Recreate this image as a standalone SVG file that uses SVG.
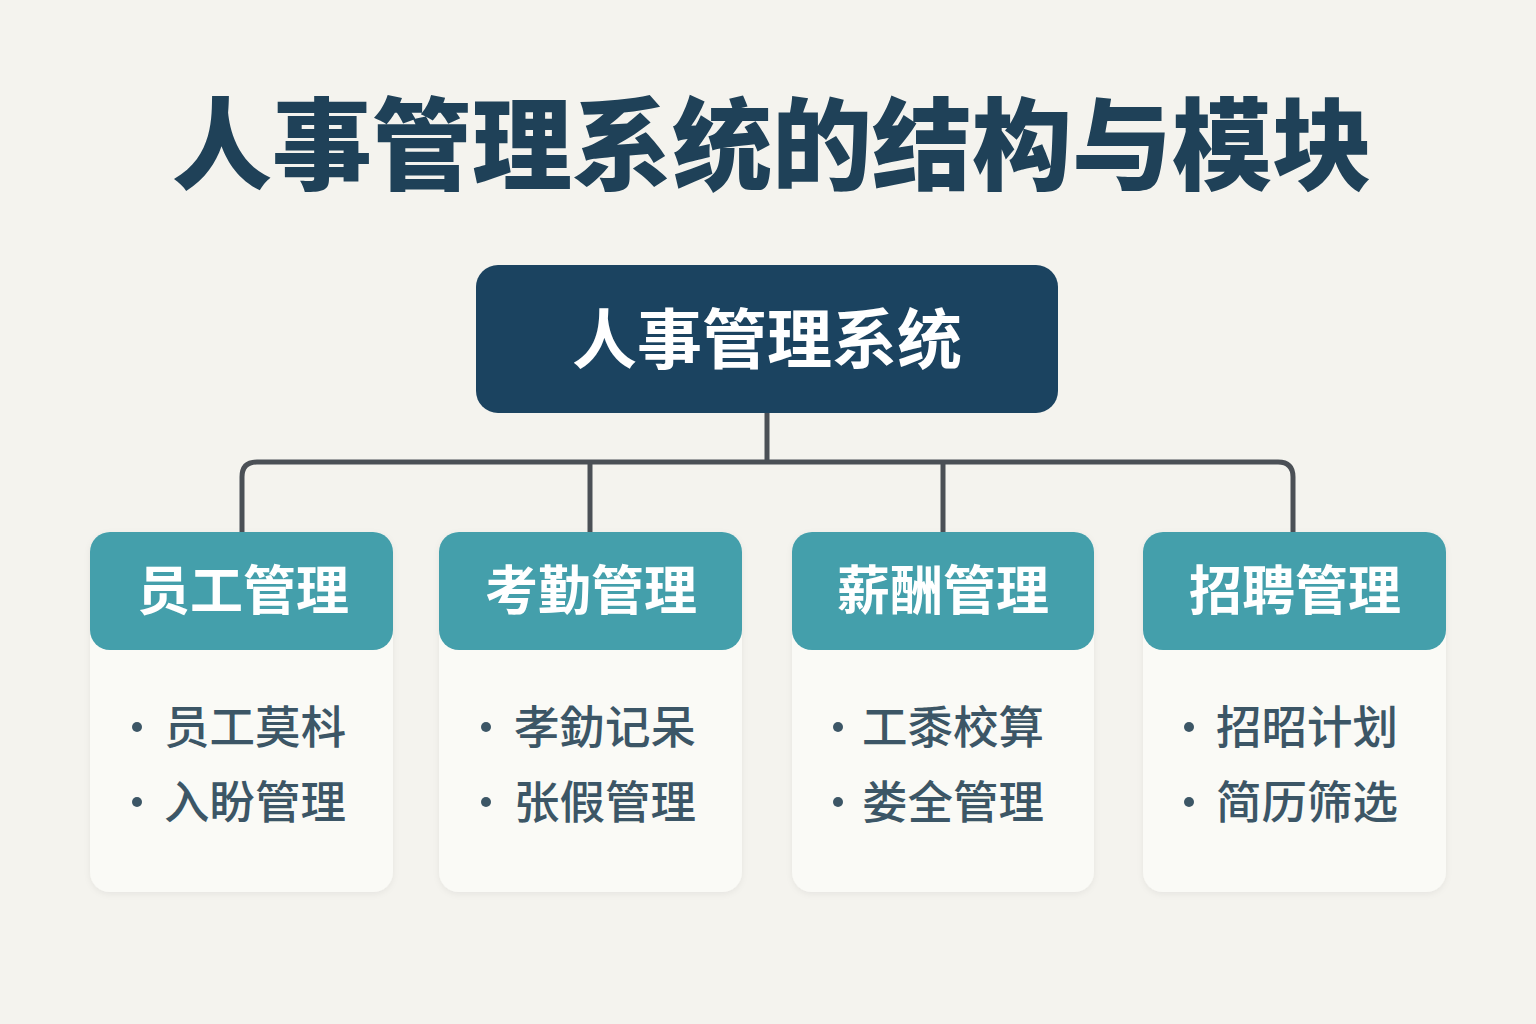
<svg xmlns="http://www.w3.org/2000/svg" width="1536" height="1024" viewBox="0 0 1536 1024">
<defs>
<style>
.bg{fill:#f4f3ee}
.title{font-family:"Noto Sans CJK SC","Noto Sans",sans-serif;font-weight:900;font-size:100px;fill:#1f4158;text-anchor:middle}
.root{fill:#1b4360}
.roottxt{font-family:"Noto Sans CJK SC","Noto Sans",sans-serif;font-weight:700;font-size:65px;fill:#ffffff;text-anchor:middle}
.body{fill:#fafaf6}
.head{fill:#449fab}
.headtxt{font-family:"Noto Sans CJK SC","Noto Sans",sans-serif;font-weight:700;font-size:53px;fill:#ffffff;text-anchor:middle}
.item{font-family:"Noto Sans CJK SC","Noto Sans",sans-serif;font-weight:500;font-size:45.5px;fill:#3c5666}
.dot{fill:#3c5666}
.conn{fill:none;stroke:#4b5056;stroke-width:5;stroke-linejoin:round}
</style>
<filter id="sh" x="-10%" y="-10%" width="120%" height="120%">
<feDropShadow dx="0" dy="2" stdDeviation="3" flood-color="#000" flood-opacity="0.06"/>
</filter>
</defs>
<rect class="bg" x="0" y="0" width="1536" height="1024"/>
<text class="title" x="772" y="182">人事管理系统的结构与模块</text>

<g id="connectors">
<path class="conn" d="M767 413 V462"/>
<path class="conn" d="M242 532 V477 Q242 462 257 462 H1278 Q1293 462 1293 477 V532"/>
<path class="conn" d="M590 462 V532"/>
<path class="conn" d="M943 462 V532"/>
</g>

<g id="root">
<rect class="root" x="476" y="265" width="582" height="148" rx="22"/>
<text class="roottxt" x="767" y="363">人事管理系统</text>
</g>

<g id="employee">
<rect class="body" x="90" y="532" width="303" height="360" rx="20" filter="url(#sh)"/>
<rect class="head" x="90" y="532" width="303" height="118" rx="20"/>
<text class="headtxt" x="243" y="610">员工管理</text>
<circle class="dot" cx="137" cy="727" r="5"/>
<text class="item" x="164" y="744">员工莫枓</text>
<circle class="dot" cx="137" cy="802" r="5"/>
<text class="item" x="164" y="819">入盼管理</text>
</g>

<g id="attendance">
<rect class="body" x="439" y="532" width="303" height="360" rx="20" filter="url(#sh)"/>
<rect class="head" x="439" y="532" width="303" height="118" rx="20"/>
<text class="headtxt" x="591" y="610">考勤管理</text>
<circle class="dot" cx="486" cy="727" r="5"/>
<text class="item" x="514" y="744">孝釛记呆</text>
<circle class="dot" cx="486" cy="802" r="5"/>
<text class="item" x="514" y="819">张假管理</text>
</g>

<g id="salary">
<rect class="body" x="792" y="532" width="302" height="360" rx="20" filter="url(#sh)"/>
<rect class="head" x="792" y="532" width="302" height="118" rx="20"/>
<text class="headtxt" x="943" y="610">薪酬管理</text>
<circle class="dot" cx="838" cy="727" r="5"/>
<text class="item" x="862" y="744">工黍校算</text>
<circle class="dot" cx="838" cy="802" r="5"/>
<text class="item" x="862" y="819">娄全管理</text>
</g>

<g id="recruit">
<rect class="body" x="1143" y="532" width="303" height="360" rx="20" filter="url(#sh)"/>
<rect class="head" x="1143" y="532" width="303" height="118" rx="20"/>
<text class="headtxt" x="1295" y="610">招聘管理</text>
<circle class="dot" cx="1189" cy="727" r="5"/>
<text class="item" x="1216" y="744">招昭计划</text>
<circle class="dot" cx="1189" cy="802" r="5"/>
<text class="item" x="1216" y="819">简历筛选</text>
</g>
</svg>
